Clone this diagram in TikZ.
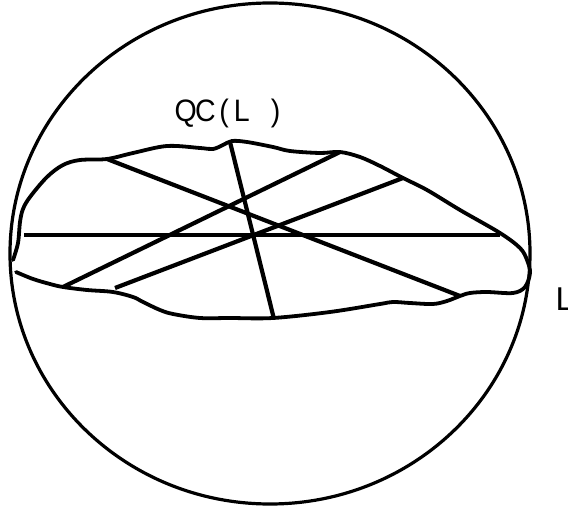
\documentclass[tikz,border=0pt]{standalone}
\usepackage{fontspec}
\setmainfont{Liberation Sans}
\usetikzlibrary{shapes.geometric}
\begin{document}
\begin{tikzpicture}[x=1pt,y=-1pt]
\tikzset{
  rim/.style={line width=3.2pt},
  blob/.style={line width=3.8pt, line cap=round, line join=round},
  chord/.style={line width=4.2pt},
  lbl/.style={inner sep=0pt, anchor=base west}
}
\useasboundingbox (0,0) rectangle (568,510);
% outer circle
\node[draw, rim, ellipse, minimum width=520pt, minimum height=501pt, inner sep=0pt] (disk) at (270,253.5) {};
% blob boundary
\draw[blob] plot[smooth, tension=0.55] coordinates {
 (13,260) (18,243) (20,222) (23,209) (30,197) (47,177) (63,165) (80,160) (107,159)
 (133,153) (167,146) (200,148) (213,149) (223,145) (232,141) (247,142) (273,147)
 (290,151) (320,153) (340,152) (360,157) (380,166) (403,178) (427,190) (460,210)
 (500,233) (520,248) (527,260) (530,273) (525,287) (513,293) (487,292) (470,293)
 (460,296) (447,301) (433,304) (410,303) (393,302) (380,304) (330,312) (273,318)
 (230,318) (200,318) (173,314) (160,310) (143,302) (133,297) (113,292) (87,290)
 (63,287) (50,284) (33,279) (16,272)};
% chord end points
\coordinate (h1) at (24,235);  \coordinate (h2) at (500,235);
\coordinate (a1) at (107,159); \coordinate (a2) at (460,296);
\coordinate (b1) at (63,287);  \coordinate (b2) at (340,152);
\coordinate (c1) at (115,288); \coordinate (c2) at (403,178);
\coordinate (v1) at (230,142); \coordinate (v2) at (274,319);
\draw[chord] (h1) -- (h2);
\draw[chord] (a1) -- (a2);
\draw[chord] (b1) -- (b2);
\draw[chord] (c1) -- (c2);
\draw[chord] (v1) -- (v2);
% labels
\node[lbl, font=\fontsize{31}{31}\selectfont] (qc) at (174.5,122)
  {\scalebox{0.92}[1]{Q\kern-2pt C\kern4pt(\kern5.6pt L\kern23pt)}};
\node[lbl, font=\fontsize{33}{33}\selectfont] (ll) at (555.5,311) {L};
\end{tikzpicture}
\end{document}
